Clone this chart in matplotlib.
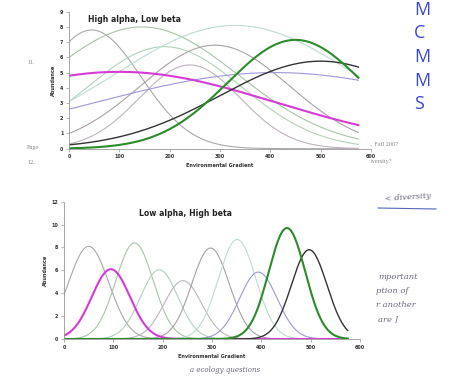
import numpy as np
import matplotlib.pyplot as plt

# species response curves: optimum, peak abundance, width
colors = ['#a8a8a8', '#a9c4a9', '#b3d1bb', '#bfb3bf', '#aaa0a6',
          '#bcdcd4', '#9d97d9', '#d63bd6', '#333333', '#2b8c2b']
widths = [0.8, 0.8, 0.8, 0.8, 0.8, 0.8, 0.8, 1.5, 1.0, 1.5]

high_opt = [45, 145, 190, 240, 290, 330, 410, 100, 500, 450]
high_peak = [7.8, 8.0, 6.7, 5.5, 6.8, 8.1, 5.0, 5.05, 5.75, 7.15]
high_width = [98, 191, 153, 100, 148, 238, 358, 309, 200, 135]

low_opt = [50, 143, 193, 241, 297, 351, 394, 95, 497, 452]
low_peak = [8.1, 8.4, 6.05, 5.1, 7.95, 8.7, 5.85, 6.1, 7.8, 9.7]
low_width = [41, 38, 38, 38, 38, 38, 38, 38.6, 36, 37]

grad = np.linspace(0, 575, 300)

W, H = 450, 379
fig = plt.figure(figsize=(4.5, 3.79), dpi=100)
fig.patch.set_facecolor('white')


def px(x, y):
    return x / W, 1 - y / H


def draw(ax, opts, peaks, sds, ymax, ystep, title, tpos):
    for o, p, s, c, lw in zip(opts, peaks, sds, colors, widths):
        ax.plot(grad, p * np.exp(-(grad - o) ** 2 / (2 * s ** 2)), color=c, lw=lw)
    ax.set_xlim(0, 600)
    ax.set_ylim(0, ymax)
    ax.set_xticks(range(0, 601, 100))
    ax.set_yticks(range(0, ymax + 1, ystep))
    for side in ['top', 'right']:
        ax.spines[side].set_visible(False)
    for side in ['left', 'bottom']:
        ax.spines[side].set_color('#999999')
        ax.spines[side].set_linewidth(0.6)
    ax.tick_params(labelsize=3.5, length=2, width=0.5, color='#999999',
                   labelcolor='#333333', pad=2)
    for lab in ax.get_xticklabels() + ax.get_yticklabels():
        lab.set_fontweight('bold')
    ax.set_xlabel('Environmental Gradient', fontsize=3.6, fontweight='bold',
                  color='#333333', labelpad=3)
    ax.set_ylabel('Abundance', fontsize=3.6, fontweight='bold',
                  color='#333333', labelpad=3)
    ax.set_facecolor('none')
    fig.text(*tpos, title, fontsize=5.6, fontweight='bold', color='#222222',
             va='center')


ax1 = fig.add_axes([69 / W, 1 - 148.7 / H, 302 / W, 137 / H])
draw(ax1, high_opt, high_peak, high_width, 9, 1, 'High alpha, Low beta', px(88, 19))

ax2 = fig.add_axes([64 / W, 1 - 339 / H, 296 / W, 137.3 / H])
draw(ax2, low_opt, low_peak, low_width, 12, 2, 'Low alpha, High beta', px(139, 213))

# bits of the scanned page around the charts
serif = dict(family='Liberation Serif', fontsize=4.5, color='#888888', va='center')
fig.text(*px(27, 62), '11.', **serif)
fig.text(*px(27, 148), 'Page', **serif)
fig.text(*px(27, 163), '12.', **serif)
fig.text(*px(371, 144), ', Fall 2007', **serif)
fig.text(*px(371, 162), 'iversity?', **serif)

hand = dict(fontsize=6, color='#6a6a80', style='italic', va='center',
            family='DejaVu Serif')
fig.text(*px(384, 197), '< diversity', rotation=4, **hand)
fig.add_artist(plt.Line2D([378 / W, 436 / W], [1 - 208 / H, 1 - 209 / H],
                          color='#5566bb', lw=0.8))
fig.text(*px(378, 277), 'mportant', **hand)
fig.text(*px(376, 291), 'ption of', **hand)
fig.text(*px(376, 305), 'r another', **hand)
fig.text(*px(378, 319), 'are ]', **hand)
fig.text(*px(190, 370), 'a ecology questions', fontsize=5, color='#6a6a80',
         style='italic', family='DejaVu Serif', va='center')

for i, ch in enumerate(['M', 'C', 'M', 'M', 'S']):
    fig.text(*px(414, 10 + i * 23.5), ch, fontsize=13, color='#3a46d0',
             family='Open Sans', va='center')

fig.savefig('out.png', dpi=100)
